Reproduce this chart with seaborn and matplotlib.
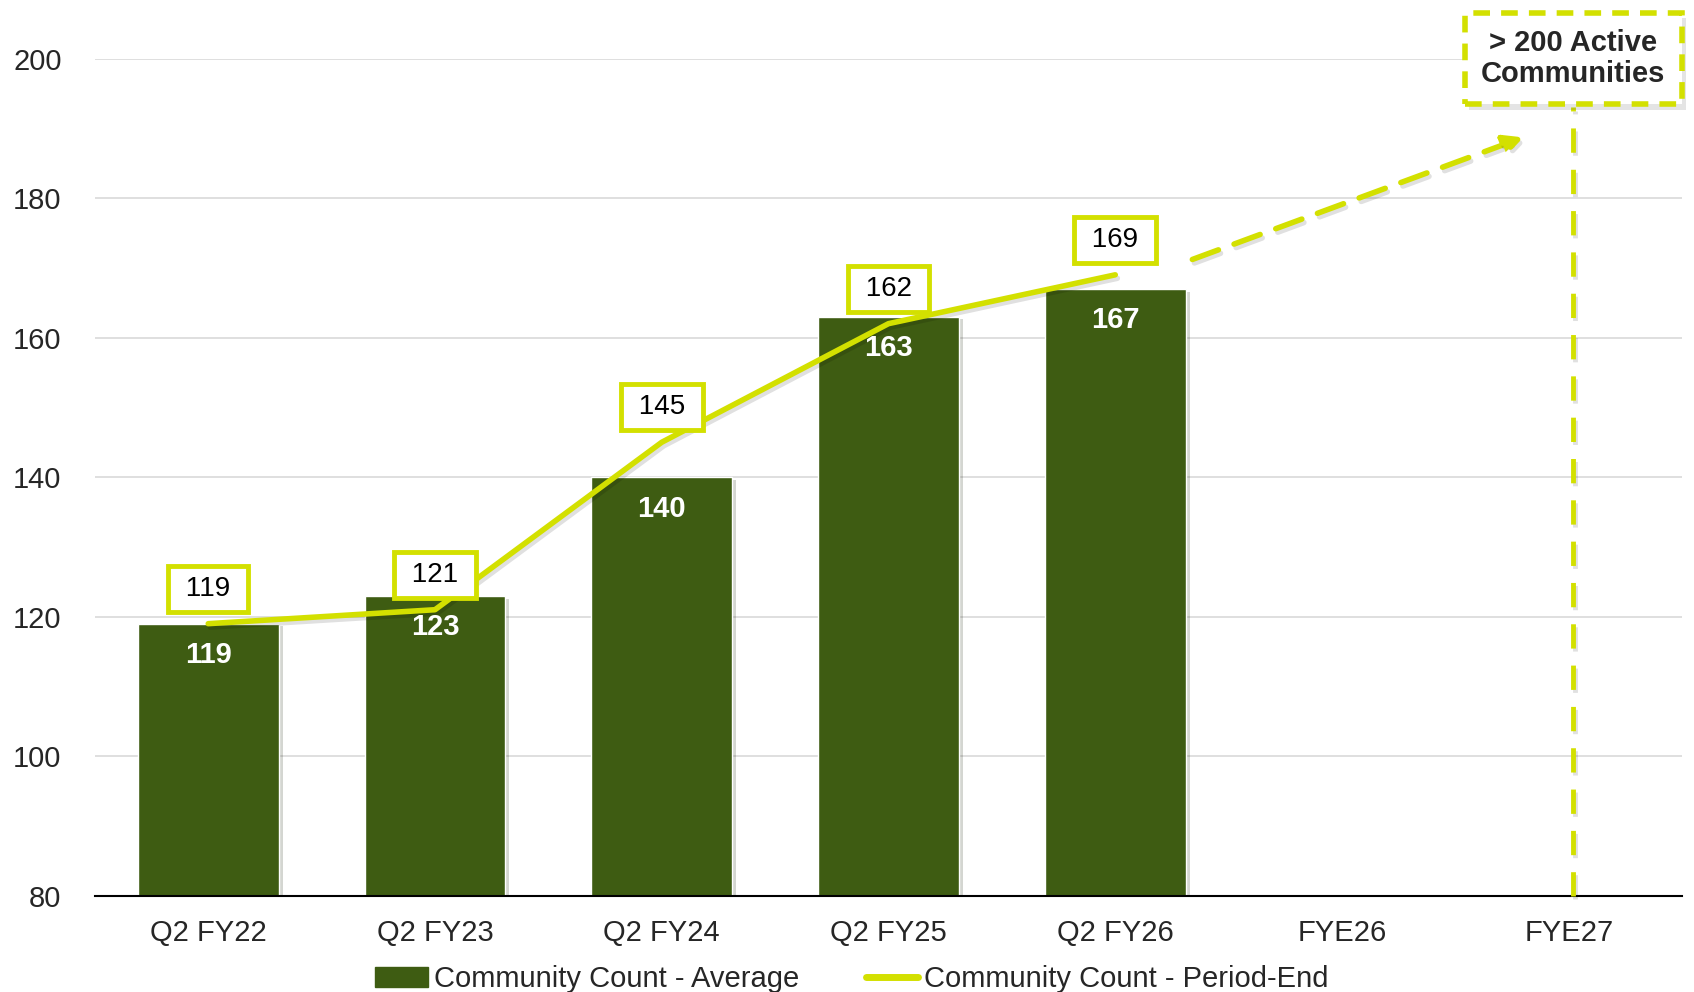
import pandas as pd
import numpy as np
import matplotlib
matplotlib.use('Agg')
import matplotlib.pyplot as plt
import matplotlib.patheffects as pe
from matplotlib.patches import Patch
from matplotlib.lines import Line2D
import seaborn as sns

categories = ['Q2 FY22', 'Q2 FY23', 'Q2 FY24', 'Q2 FY25', 'Q2 FY26', 'FYE26', 'FYE27']
avg_count = [119, 123, 140, 163, 167]
period_end = [119, 121, 145, 162, 169]
target_text = '> 200 Active\nCommunities'

dark_green = '#3e5c12'
lime = '#d3e000'

sns.set_style('white')
plt.rcParams['font.family'] = ['Liberation Sans', 'DejaVu Sans']

fig = plt.figure(figsize=(16.94, 9.92), dpi=100)
ax = fig.add_axes([0.056, 0.097, 0.937, 0.844])

df = pd.DataFrame({'period': categories[:len(avg_count)], 'count': avg_count})
bar_shadow = [pe.SimplePatchShadow(offset=(3, -2), alpha=0.18), pe.Normal()]
sns.barplot(data=df, x='period', y='count', order=categories, color=dark_green,
            saturation=1, width=0.62, ax=ax, zorder=2)
for bar in ax.patches:
    bar.set_path_effects(bar_shadow)

xs = np.arange(len(period_end))
line_shadow = [pe.SimpleLineShadow(offset=(1.5, -2.5), alpha=0.12), pe.Normal()]
sns.lineplot(x=xs, y=period_end, color=lime, linewidth=4, ax=ax, zorder=3)
ax.lines[-1].set_path_effects(line_shadow)

# labels inside bars
for i, v in enumerate(avg_count):
    ax.text(i, v - 4.5, str(v), ha='center', va='center', color='white',
            fontsize=21, fontweight='bold', zorder=5)

# boxed period-end labels
for i, v in enumerate(period_end):
    ax.text(i, v + 5, ' ' + str(v) + ' ', ha='center', va='center', color='black',
            fontsize=20, zorder=6,
            bbox=dict(boxstyle='square,pad=0.36', fc='white', ec=lime, lw=3.5))

# dashed projection arrow
ax.annotate('', xy=(5.8, 188.7), xytext=(4.34, 171.2),
            arrowprops=dict(arrowstyle='-|>', color=lime, lw=4, linestyle=(0, (5, 3)),
                            mutation_scale=28, shrinkA=0, shrinkB=0,
                            path_effects=line_shadow), zorder=4)
ax.plot([6.02, 6.02], [80, 193], color=lime, lw=3.5, linestyle=(0, (5, 3.5)),
        zorder=4, clip_on=False, path_effects=line_shadow)

ax.text(6.02, 200, target_text, ha='center', va='center', fontsize=21, fontweight='bold',
        linespacing=1.15, zorder=7, clip_on=False,
        bbox=dict(boxstyle='square,pad=0.55', fc='white', ec=lime, lw=4, linestyle=(0, (3, 2)),
                  path_effects=[pe.SimplePatchShadow(offset=(3, -4), alpha=0.15), pe.Normal()]))

ax.set_xlim(-0.5, 6.5)
ax.set_ylim(80, 200)
ax.set_yticks(range(80, 201, 20))
ax.yaxis.grid(True, color='#d9d9d9', lw=1.2, zorder=0)
ax.set_axisbelow(True)
for s in ['top', 'right', 'left']:
    ax.spines[s].set_visible(False)
ax.spines['bottom'].set_color('black')
ax.spines['bottom'].set_linewidth(1.5)
ax.set_xlabel('')
ax.set_ylabel('')
ax.set_xticks(range(len(categories)))
ax.set_xticklabels(categories)
ax.set_xticks(np.arange(-0.5, 7, 1), minor=True)
ax.tick_params(axis='x', which='major', length=0, labelsize=21, pad=17)
ax.tick_params(axis='x', which='minor', length=8, width=1.5, color='black', direction='out')
ax.tick_params(axis='y', length=0, labelsize=21, pad=24)

handles = [Patch(color=dark_green, label='Community Count - Average'),
           Line2D([0], [0], color=lime, lw=5, label='Community Count - Period-End')]
fig.legend(handles=handles, loc='center', bbox_to_anchor=(0.503, 0.013), ncol=2,
           frameon=False, fontsize=21, handlelength=1.8, handletextpad=0.2, columnspacing=2.3)

fig.savefig('out.png', dpi=100)
